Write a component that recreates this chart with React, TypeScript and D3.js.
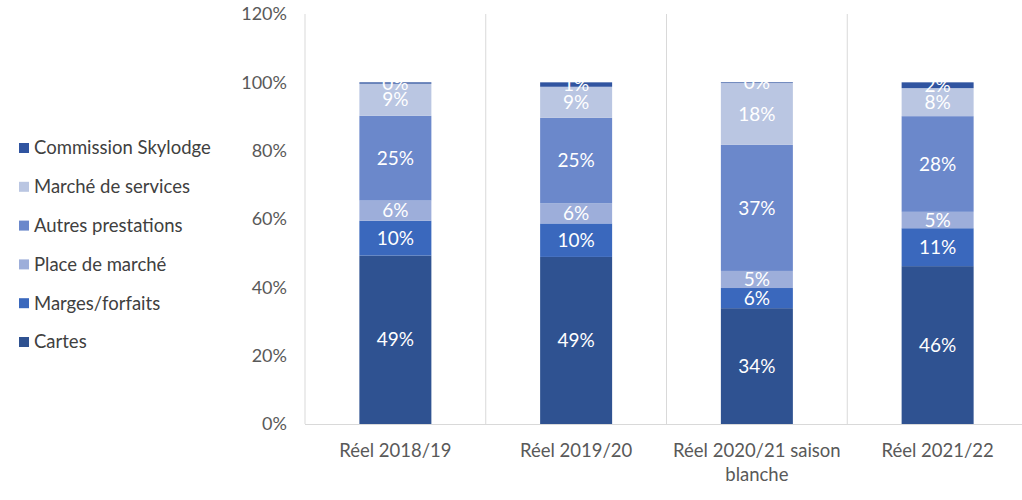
import React from "react";
import * as d3 from "d3";

const categories = [["Réel 2018/19"], ["Réel 2019/20"], ["Réel 2020/21 saison", "blanche"], ["Réel 2021/22"]];
const seriesNames = ["Cartes", "Marges/forfaits", "Place de marché", "Autres prestations", "Marché de services", "Commission Skylodge"];
const seriesColors = ["#2F5291", "#3A68BD", "#9DAEDA", "#6B88CB", "#BAC6E2", "#3054A0"];
const cartes = [49.3, 48.9, 33.9, 46.2];
const marges = [10.2, 9.8, 5.9, 11.1];
const placeMarche = [5.9, 5.9, 5.0, 4.8];
const autres = [24.8, 25.0, 36.9, 28.0];
const services = [9.4, 9.1, 18.1, 8.2];
const commission = [0.4, 1.3, 0.2, 1.7];
const yTicks = [0, 20, 40, 60, 80, 100, 120];

const W = 1022, H = 500;
const FONT = "Lato, 'Open Sans', sans-serif";

export default function App() {
  const series = [cartes, marges, placeMarche, autres, services, commission];
  const x = d3.scaleBand<number>().domain(d3.range(categories.length)).range([305, 1028]).paddingInner(0).paddingOuter(0);
  const y = d3.scaleLinear().domain([0, 120]).range([424, 14]);
  const barW = 72;

  const rects: React.ReactNode[] = [];
  const labels: React.ReactNode[] = [];
  categories.forEach((_, ci) => {
    let acc = 0;
    const cx = (x(ci) as number) + x.bandwidth() / 2;
    series.forEach((s, si) => {
      const v = s[ci];
      const y0 = y(acc), y1 = y(acc + v);
      rects.push(<rect key={`r${ci}-${si}`} x={cx - barW / 2} y={y1} width={barW} height={y0 - y1} fill={seriesColors[si]} />);
      labels.push(
        <text key={`l${ci}-${si}`} x={cx} y={(y0 + y1) / 2} dy="0.35em" textAnchor="middle" fill="#fff" fontSize={19}>
          {Math.round(v)}%
        </text>
      );
      acc += v;
    });
  });

  return (
    <svg width={W} height={H} style={{ position: "absolute", left: 0, top: 0, fontFamily: FONT }}>
      <rect width={W} height={H} fill="#fff" />
      {d3.range(categories.length + 1).map((i) => {
        const xx = 305 + i * x.bandwidth();
        return <line key={`g${i}`} x1={xx} x2={xx} y1={14} y2={424} stroke="#D9D9D9" strokeWidth={1} />;
      })}
      <line x1={305} x2={1028} y1={424.5} y2={424.5} stroke="#D9D9D9" strokeWidth={1} />
      {rects}
      {labels}
      {yTicks.map((t) => (
        <text key={`t${t}`} x={287} y={y(t)} dy="0.35em" textAnchor="end" fill="#595959" fontSize={18}>
          {t}%
        </text>
      ))}
      {categories.map((lines, ci) => (
        <text key={`c${ci}`} x={(x(ci) as number) + x.bandwidth() / 2} y={451} textAnchor="middle" fill="#595959" fontSize={18.5}>
          {lines.map((ln, li) => (
            <tspan key={li} x={(x(ci) as number) + x.bandwidth() / 2} y={451 + li * 24} dy="0.35em">
              {ln}
            </tspan>
          ))}
        </text>
      ))}
      {seriesNames.slice().reverse().map((name, i) => {
        const si = seriesNames.length - 1 - i;
        const yy = 148 + i * 38.8;
        return (
          <g key={`lg${i}`}>
            <rect x={19} y={yy - 5} width={10} height={10} fill={seriesColors[si]} />
            <text x={34} y={yy} dy="0.35em" fill="#404040" fontSize={18.5}>
              {name}
            </text>
          </g>
        );
      })}
    </svg>
  );
}
